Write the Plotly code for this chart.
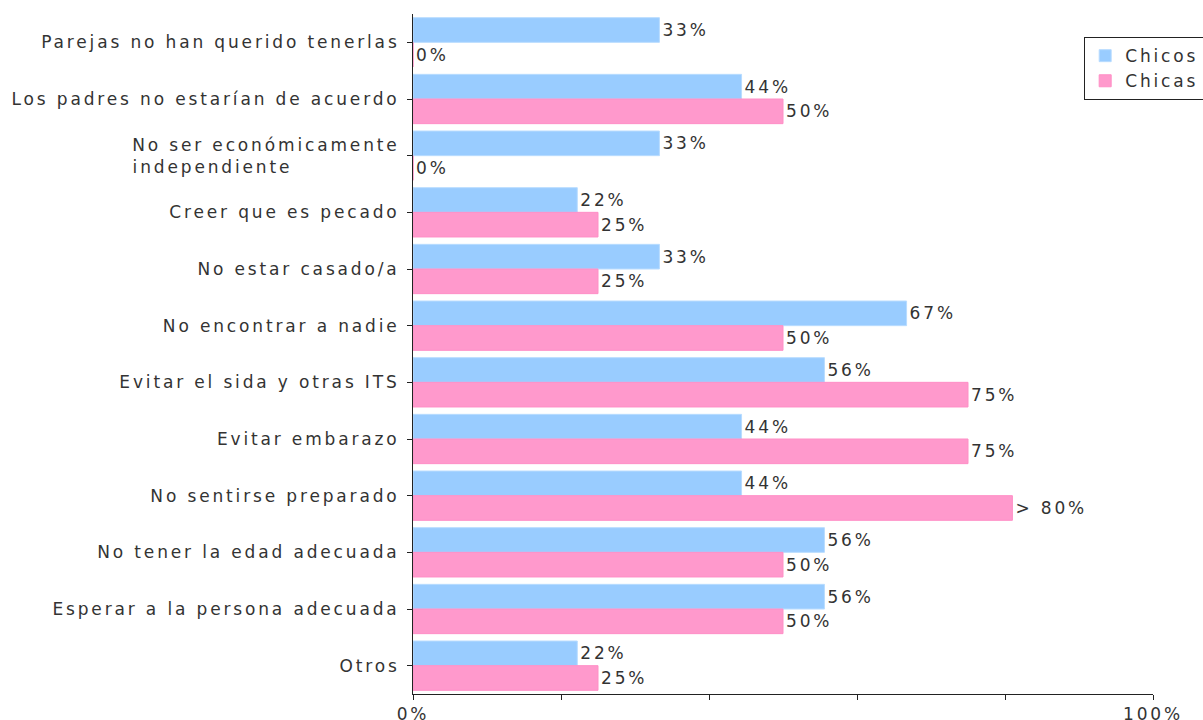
import plotly.graph_objects as go

NB = "\u00a0"
categories = [
    "Parejas no han querido tenerlas",
    "Los padres no estarían de acuerdo",
    "No ser económicamente<br>independiente" + NB * 13,
    "Creer que es pecado",
    "No estar casado/a",
    "No encontrar a nadie",
    "Evitar el sida y otras ITS",
    "Evitar embarazo",
    "No sentirse preparado",
    "No tener la edad adecuada",
    "Esperar a la persona adecuada",
    "Otros",
]
chicos = [33.3, 44.4, 33.3, 22.2, 33.3, 66.7, 55.6, 44.4, 44.4, 55.6, 55.6, 22.2]
chicos_labels = ["33%", "44%", "33%", "22%", "33%", "67%", "56%", "44%", "44%", "56%", "56%", "22%"]
chicas = [0, 50, 0, 25, 25, 50, 75, 75, 81, 50, 50, 25]
chicas_labels = ["0%", "50%", "0%", "25%", "25%", "50%", "75%", "75%", "> 80%", "50%", "50%", "25%"]
x_tickvals = [0, 20, 40, 60, 80, 100]
x_ticktext = ["0%", "", "", "", "", "100%"]

FONT = "DejaVu Sans"
TXT = "#333333"
AX = "#222222"

fig = go.Figure()
fig.add_trace(go.Bar(
    y=categories, x=chicos, name="Chicos", orientation="h",
    marker=dict(color="#99ccff", line=dict(color="#b8dcff", width=1)),
    text=chicos_labels, textposition="outside", cliponaxis=False,
    constraintext="none",
))
fig.add_trace(go.Bar(
    y=categories, x=chicas, name="Chicas", orientation="h",
    marker=dict(color="#ff99cc", line=dict(color="#ff8fc6", width=1)),
    text=chicas_labels, textposition="outside", cliponaxis=False,
    constraintext="none",
))

fig.update_layout(
    width=1203, height=720,
    margin=dict(l=413, r=50, t=14, b=26, autoexpand=False),
    barmode="group", bargap=0.13, bargroupgap=0,
    plot_bgcolor="white", paper_bgcolor="white",
    font=dict(family=FONT, size=17, color=TXT),
    legend=dict(
        x=0.907, y=0.966, xanchor="left", yanchor="top",
        bordercolor=AX, borderwidth=1, bgcolor="white",
        traceorder="normal", entrywidth=130, entrywidthmode="pixels",
    ),
    showlegend=True,
)
fig.update_yaxes(
    autorange="reversed", showline=True, linecolor=AX, linewidth=1,
    ticks="outside", ticklen=5, tickcolor=AX, showgrid=False,
    automargin=False, ticklabelstandoff=4,
)
fig.update_xaxes(
    range=[0, 100], tickvals=x_tickvals, ticktext=x_ticktext,
    showline=True, linecolor=AX, linewidth=1,
    ticks="outside", ticklen=5, tickcolor=AX, showgrid=False,
    zeroline=False, automargin=False,
)

post = """
document.body.style.margin = '0';
document.body.style.overflow = 'hidden';
var st = document.createElement('style');
st.innerHTML = 'svg text{letter-spacing:2.85px !important;}';
document.head.appendChild(st);
var gd = document.getElementsByClassName('plotly-graph-div')[0];
Plotly.relayout(gd, {'font.size': 17.001});
"""

fig.write_html("out.html", post_script=post, config={"displayModeBar": False})
